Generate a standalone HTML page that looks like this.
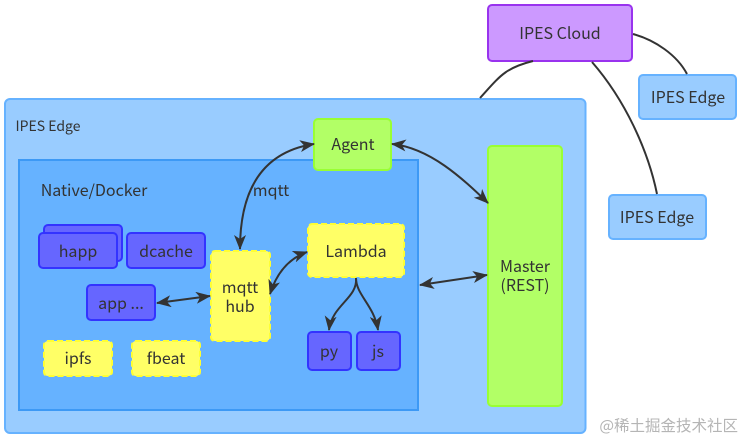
<!DOCTYPE html>
<html><head><meta charset="utf-8">
<style>html,body{margin:0;padding:0;background:#fff}svg{display:block}
text{font-family:"Noto Sans CJK SC","Liberation Sans",sans-serif;font-size:16px;fill:#333;text-anchor:middle}
.b{fill:#6666ff;stroke:#3333ff;stroke-width:2}
.y{fill:#ffff66;stroke:#ffff33;stroke-width:2;stroke-dasharray:6 3}
.g{fill:#b2ff66;stroke:#99ff33;stroke-width:2}
.e{fill:#99ccff;stroke:#66b2ff;stroke-width:2}
.l{fill:none;stroke:#333;stroke-width:2}
</style></head><body>
<svg width="744" height="440" viewBox="0 0 744 440" xmlns="http://www.w3.org/2000/svg">
<defs>
<marker id="a" viewBox="0 0 15 12" refX="14" refY="6" markerWidth="15" markerHeight="12" markerUnits="userSpaceOnUse" orient="auto-start-reverse"><path d="M0 0L15 6L0 12L4 6Z" fill="#333"/></marker>
</defs>
<rect x="5" y="99" width="580.500" height="334" rx="5" class="e"/>
<rect x="19" y="160" width="399" height="250" fill="#66b2ff" stroke="#3d99f5" stroke-width="2"/>
<rect x="44" y="225" width="78" height="36" rx="4" class="b"/>
<rect x="39" y="233" width="78" height="35" rx="4" class="b"/>
<rect x="127" y="233" width="78" height="35" rx="4" class="b"/>
<rect x="87" y="285" width="68" height="35" rx="4" class="b"/>
<rect x="44" y="341" width="68" height="35" rx="4" class="y"/>
<rect x="132" y="341" width="68" height="35" rx="4" class="y"/>
<rect x="211" y="251" width="59" height="90" rx="4" class="y"/>
<rect x="308" y="224" width="96" height="53" rx="4" class="y"/>
<rect x="314" y="119" width="77" height="51" rx="4" class="g"/>
<rect x="488" y="146" width="74" height="260" rx="4" class="g"/>
<rect x="308" y="332" width="43" height="38" rx="4" class="b"/>
<rect x="357" y="332" width="43" height="38" rx="4" class="b"/>
<rect x="488" y="5" width="144" height="56" rx="4" fill="#cc99ff" stroke="#9933ee" stroke-width="2"/>
<rect x="639" y="75" width="97" height="44" rx="4" class="e"/>
<rect x="609" y="195" width="97" height="44" rx="4" class="e"/>

<path class="l" d="M533 61C505 68 500 76 480 98"/>
<path class="l" d="M633 34C655 40 677 55 687 74"/>
<path class="l" d="M592 62C625 100 648 150 657 194"/>
<path class="l" d="M392 144C430 148 462 178 488 203" marker-start="url(#a)" marker-end="url(#a)"/>
<path class="l" d="M314 144C262 152 240 190 240 249" marker-start="url(#a)" marker-end="url(#a)"/>
<path class="l" d="M270 294C277 272 290 258 307 252" marker-start="url(#a)" marker-end="url(#a)"/>
<path class="l" d="M157 303L210 296" marker-start="url(#a)" marker-end="url(#a)"/>
<path class="l" d="M420 285L487 275" marker-start="url(#a)" marker-end="url(#a)"/>
<path class="l" d="M356 278C358 298 332 305 329 330" marker-end="url(#a)"/>
<path class="l" d="M356 278C356 295 374 305 378 330" marker-end="url(#a)"/>

<text x="48" y="131" style="font-size:14px">IPES Edge</text>
<text x="94" y="196">Native/Docker</text>
<text x="271" y="196">mqtt</text>
<text x="78" y="257">happ</text>
<text x="166" y="257">dcache</text>
<text x="121" y="309">app ...</text>
<text x="78" y="364">ipfs</text>
<text x="166" y="364">fbeat</text>
<text x="240" y="293">mqtt</text>
<text x="240" y="312">hub</text>
<text x="356" y="257">Lambda</text>
<text x="353" y="150">Agent</text>
<text x="525" y="272">Master</text>
<text x="525" y="291">(REST)</text>
<text x="329" y="357">py</text>
<text x="378" y="357">js</text>
<text x="560" y="39">IPES Cloud</text>
<text x="688" y="103">IPES Edge</text>
<text x="657" y="223">IPES Edge</text>
<text x="738" y="431" style="font-size:15.5px;fill:#b5b5b5;text-anchor:end">@稀土掘金技术社区</text>
</svg>
</body></html>
